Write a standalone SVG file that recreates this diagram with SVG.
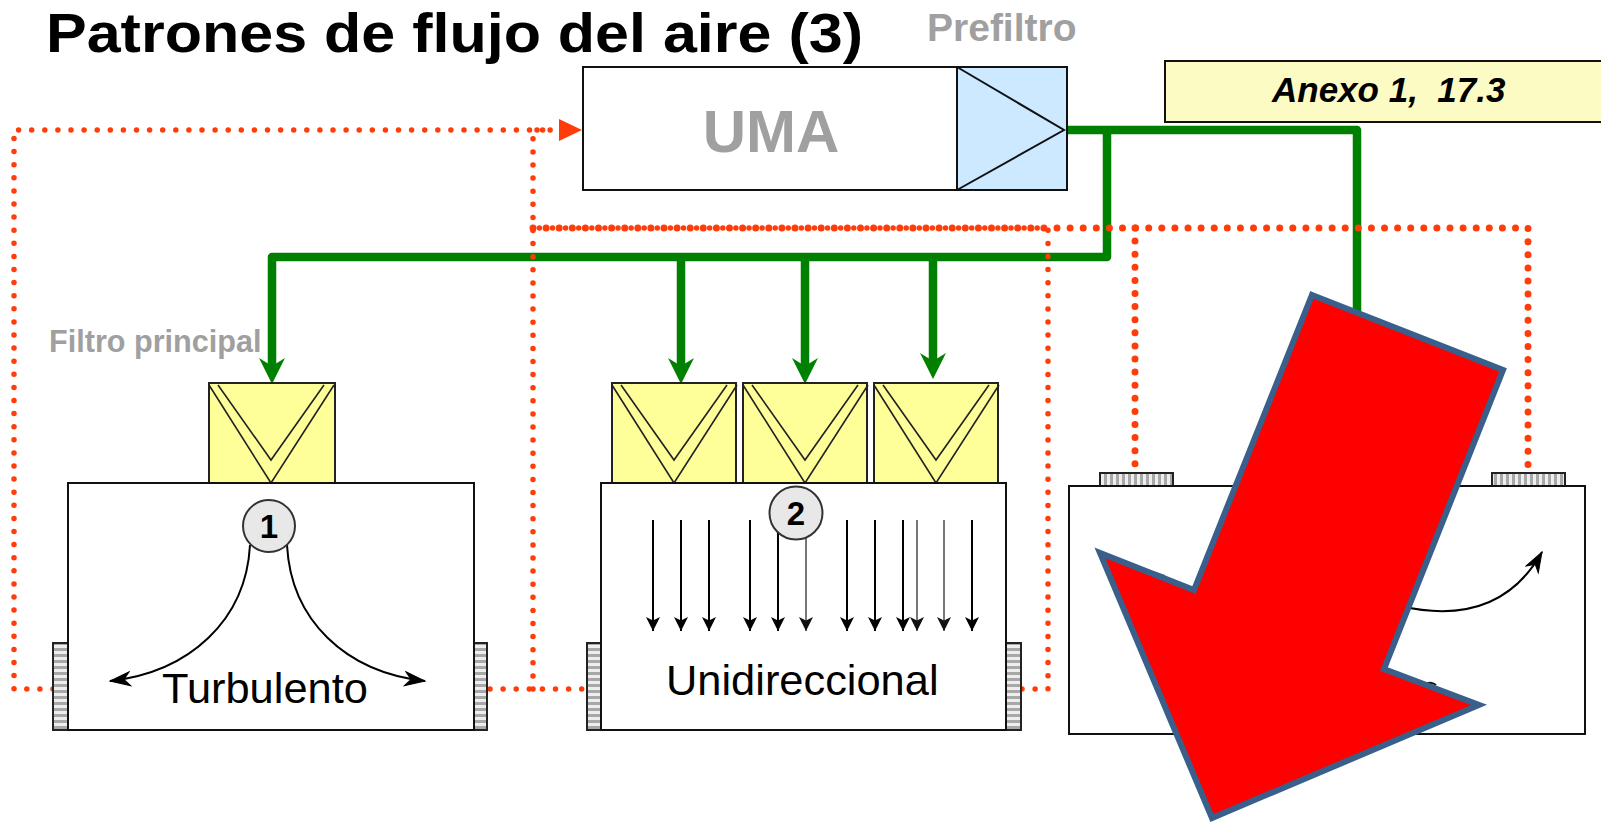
<svg xmlns="http://www.w3.org/2000/svg" width="1601" height="822" viewBox="0 0 1601 822">
<style>
text{font-family:"Liberation Sans",Arial,sans-serif}
.box{fill:#fff;stroke:#111;stroke-width:2}
.filter{fill:#ffff99;stroke:#222;stroke-width:2}
.v{fill:none;stroke:#222;stroke-width:1.6}
.green{fill:none;stroke:#008000;stroke-width:8.5;stroke-linejoin:round}
.dot{fill:none;stroke:#ff3d0a;stroke-width:5.5;stroke-linecap:round;stroke-dasharray:0 13.1}
.dotb{fill:none;stroke:#ff3d0a;stroke-width:7;stroke-linecap:round;stroke-dasharray:0 13.1}
.thin{fill:none;stroke:#000;stroke-width:2}
.grey{stroke:#777}
.gtxt{fill:#a0a0a0;font-weight:bold}
.num{font-weight:bold;font-size:33px;text-anchor:middle;fill:#000}
.lbl{font-size:43.4px;fill:#000}
.circ{fill:#e8e8e8;stroke:#333;stroke-width:2}
</style>
<defs>
<marker id="ga" markerUnits="userSpaceOnUse" markerWidth="28" markerHeight="28" refX="8" refY="14" orient="auto"><path d="M0 1L26 14L0 27L8 14Z" fill="#008000"/></marker>
<marker id="ba" markerUnits="userSpaceOnUse" markerWidth="16" markerHeight="16" refX="14" refY="7" orient="auto"><path d="M0 0L14 7L0 14L3.5 7Z" fill="#000"/></marker>
<marker id="bg" markerUnits="userSpaceOnUse" markerWidth="16" markerHeight="16" refX="14" refY="7" orient="auto"><path d="M0 0L14 7L0 14L3.5 7Z" fill="#111"/></marker>
<marker id="oc" markerUnits="userSpaceOnUse" markerWidth="24" markerHeight="16" refX="21" refY="8" orient="auto"><path d="M1 1L21 8L1 15L7 8Z" fill="#000" stroke="#000" stroke-width="1"/></marker>
<pattern id="hh" width="6" height="6" patternUnits="userSpaceOnUse"><rect width="6" height="6" fill="#eee"/><rect width="6" height="3" fill="#a8a8a8"/></pattern>
<pattern id="hv" width="6" height="6" patternUnits="userSpaceOnUse"><rect width="6" height="6" fill="#eee"/><rect width="3" height="6" fill="#a8a8a8"/></pattern>
<g id="vshape"><path class="v" d="M0 2L62 100L125 2"/><path class="v" d="M9 2L62 77L115 2"/></g>
</defs>

<text id="title" x="46" y="52" font-size="55" font-weight="bold" fill="#000" textLength="817" lengthAdjust="spacingAndGlyphs">Patrones de flujo del aire (3)</text>
<text id="prefiltro-label" class="gtxt" x="927" y="41" font-size="39">Prefiltro</text>
<text id="filtro-label" class="gtxt" x="49" y="352" font-size="30.6">Filtro principal</text>

<g id="connectors">
<path class="green" d="M1063 130H1357V320"/>
<path class="green" d="M1107 130V257H272V366" marker-end="url(#ga)"/>
<path class="green" d="M681 257V366" marker-end="url(#ga)"/>
<path class="green" d="M805 257V366" marker-end="url(#ga)"/>
<path class="green" d="M933 257V361" marker-end="url(#ga)"/>
<path class="dot" d="M53 689H14V130H545"/>
<path d="M559 119L582 130L559 141Z" fill="#ff3d0a"/>
<path class="dot" d="M537 130H564"/>
<path class="dot" d="M490 689H600"/>
<path class="dot" d="M533 689V130"/>
<path class="dotb" d="M533 228H1528V472"/>
<path class="dot" d="M1022 689H1048V228H538"/>
<path class="dotb" d="M1135 228V472"/>
</g>

<g id="uma">
<rect class="box" x="583" y="67" width="484" height="123"/>
<rect x="957" y="67" width="110" height="123" fill="#cce9ff" stroke="#111" stroke-width="2"/>
<path d="M957 67L1064 130L957 190" fill="none" stroke="#111" stroke-width="2"/>
<text x="771" y="152" font-size="60" font-weight="bold" fill="#a0a0a0" text-anchor="middle">UMA</text>
</g>

<g id="anexo">
<rect x="1165" y="61" width="440" height="61" fill="#fdfbc4" stroke="#111" stroke-width="2"/>
<text x="1272" y="102" font-size="35" font-weight="bold" font-style="italic" fill="#000" style="white-space:pre">Anexo 1,  17.3</text>
</g>

<g id="filter-1"><rect class="filter" x="209" y="383" width="126" height="100"/><use href="#vshape" x="209" y="383"/></g>
<g id="filter-2a"><rect class="filter" x="612" y="383" width="124" height="100"/><use href="#vshape" x="612" y="383"/></g>
<g id="filter-2b"><rect class="filter" x="743" y="383" width="124" height="100"/><use href="#vshape" x="743" y="383"/></g>
<g id="filter-2c"><rect class="filter" x="874" y="383" width="124" height="100"/><use href="#vshape" x="874" y="383"/></g>

<g id="room-1">
<rect x="53" y="643" width="15" height="87" fill="url(#hh)" stroke="#222" stroke-width="2"/>
<rect x="474" y="643" width="13" height="87" fill="url(#hh)" stroke="#222" stroke-width="2"/>
<rect class="box" x="68" y="483" width="406" height="247"/>
<path class="thin" d="M250 545C246 620 190 672 110 681" marker-end="url(#oc)"/>
<path class="thin" d="M287 545C291 620 345 672 425 681" marker-end="url(#oc)"/>
<circle class="circ" cx="269" cy="526" r="26"/>
<text class="num" x="269" y="538">1</text>
<text class="lbl" x="162" y="703">Turbulento</text>
</g>

<g id="room-2">
<rect x="587" y="643" width="14" height="87" fill="url(#hh)" stroke="#222" stroke-width="2"/>
<rect x="1006" y="643" width="15" height="87" fill="url(#hh)" stroke="#222" stroke-width="2"/>
<rect class="box" x="601" y="483" width="405" height="247"/>
<g>
<path class="thin" d="M653 520V631" marker-end="url(#ba)"/>
<path class="thin" d="M681 520V631" marker-end="url(#ba)"/>
<path class="thin" d="M709 520V631" marker-end="url(#ba)"/>
<path class="thin" d="M750 520V631" marker-end="url(#ba)"/>
<path class="thin" d="M778 520V631" marker-end="url(#ba)"/>
<path class="thin grey" d="M806 520V631" marker-end="url(#bg)"/>
<path class="thin" d="M847 520V631" marker-end="url(#ba)"/>
<path class="thin" d="M875 520V631" marker-end="url(#ba)"/>
<path class="thin" d="M903 520V631" marker-end="url(#ba)"/>
<path class="thin grey" d="M917 520V631" marker-end="url(#bg)"/>
<path class="thin grey" d="M944 520V631" marker-end="url(#bg)"/>
<path class="thin" d="M972 520V631" marker-end="url(#ba)"/>
</g>
<circle class="circ" cx="796" cy="513" r="26.5"/>
<text class="num" x="796" y="525">2</text>
<text class="lbl" x="666" y="695">Unidireccional</text>
</g>

<g id="room-3">
<rect x="1100" y="473" width="73" height="13" fill="url(#hv)" stroke="#222" stroke-width="2"/>
<rect x="1492" y="473" width="73" height="13" fill="url(#hv)" stroke="#222" stroke-width="2"/>
<rect class="box" x="1069" y="486" width="516" height="248"/>
<path class="thin" d="M1400 606C1470 622 1515 600 1542 552" marker-end="url(#oc)"/>
<path d="M1153 572L1165 576" stroke="#777" stroke-width="2" fill="none"/>
<path d="M1426 684Q1431 681 1436 685" stroke="#111" stroke-width="2" fill="none"/>
</g>

<polygon id="big-arrow" points="1312,295 1503,370 1384,669 1479,705 1212,818 1100,553 1194,590" fill="#ff0000" stroke="#3a5f8a" stroke-width="6"/>
</svg>
